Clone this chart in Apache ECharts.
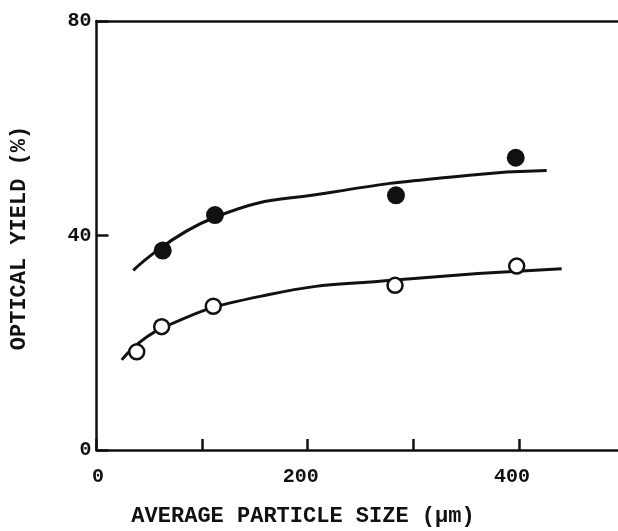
<!DOCTYPE html>
<html>
<head>
<meta charset="utf-8">
<script src="https://cdn.jsdelivr.net/npm/echarts@6/dist/echarts.min.js"></script>
<style>html,body{margin:0;padding:0;background:#fff}#c{width:618px;height:531px}</style>
</head>
<body>
<div id="c"></div>
<script>
// Data
const filledPoints = [[62.7, 37.2], [112.2, 43.8], [283.6, 47.5], [397, 54.5]];
const openPoints = [[38.1, 18.3], [61.7, 23.0], [110.6, 26.8], [282.7, 30.7], [397.9, 34.3]];
const filledCurve = [[34.8, 33.5], [112.2, 43.4], [224.2, 48.1], [350.6, 51.2], [426.3, 52.1]];
const openCurve = [[23.9, 16.8], [61.7, 22.7], [161.2, 28.9], [282.7, 31.7], [440.5, 33.8]];
const xLabels = [0, 200, 400];
const xTitle = 'AVERAGE PARTICLE SIZE (\u03bcm)';
const yTitle = 'OPTICAL YIELD (%)';

const ink = '#111';
const font = '"Liberation Mono", "DejaVu Sans Mono", monospace';
const chart = echarts.init(document.getElementById('c'));
chart.setOption({
  animation: false,
  backgroundColor: '#fff',
  grid: { left: 96.5, top: 21, height: 429, width: 528, outerBoundsMode: 'none', containLabel: false },
  graphic: [
    { type: 'text', x: 303, y: 516, style: { text: xTitle, font: 'bold 22px ' + font, fill: ink, align: 'center', verticalAlign: 'middle' } },
    { type: 'text', x: 19, y: 238, rotation: Math.PI / 2, style: { text: yTitle, font: 'bold 22px ' + font, fill: ink, align: 'center', verticalAlign: 'middle' } }
  ],
  xAxis: [{
    type: 'value', min: 0, max: 500, interval: 100, position: 'bottom',
    axisLine: { show: true, lineStyle: { color: ink, width: 2.5 } },
    axisTick: { show: true, inside: true, length: 11, lineStyle: { color: ink, width: 2.5 } },
    axisLabel: { color: ink, fontFamily: font, fontWeight: 'bold', fontSize: 20, margin: 17,
      formatter: v => xLabels.indexOf(v) < 0 ? '' : (v === 0 ? '{z|0}' : '{a|' + v + '}'),
      rich: {
        z: { color: ink, fontFamily: font, fontWeight: 'bold', fontSize: 20, padding: [0, 0, 0, 3] },
        a: { color: ink, fontFamily: font, fontWeight: 'bold', fontSize: 20, padding: [0, 14, 0, 0] }
      } },
    splitLine: { show: false }
  }, {
    type: 'value', min: 0, max: 500, position: 'top',
    axisLine: { show: true, onZero: false, lineStyle: { color: ink, width: 2.5 } },
    axisTick: { show: false }, axisLabel: { show: false }, splitLine: { show: false }
  }],
  yAxis: {
    type: 'value', min: 0, max: 80, interval: 40,
    axisLine: { show: true, lineStyle: { color: ink, width: 2.5 } },
    axisTick: { show: true, inside: true, length: 12, lineStyle: { color: ink, width: 2.5 } },
    axisLabel: { color: ink, fontFamily: font, fontWeight: 'bold', fontSize: 20, margin: 5 },
    splitLine: { show: false }
  },
  series: [
    { type: 'line', data: filledCurve, smooth: 0.5, showSymbol: false, symbol: 'none',
      lineStyle: { color: ink, width: 3 }, z: 2 },
    { type: 'line', data: openCurve, smooth: 0.5, showSymbol: false, symbol: 'none',
      lineStyle: { color: ink, width: 3 }, z: 2 },
    { type: 'scatter', data: filledPoints, symbol: 'circle', symbolSize: 18,
      itemStyle: { color: ink, opacity: 1 }, z: 3 },
    { type: 'scatter', data: openPoints, symbol: 'circle', symbolSize: 15,
      itemStyle: { color: '#fff', borderColor: ink, borderWidth: 2.5, opacity: 1 }, z: 3 }
  ]
});
</script>
</body>
</html>
